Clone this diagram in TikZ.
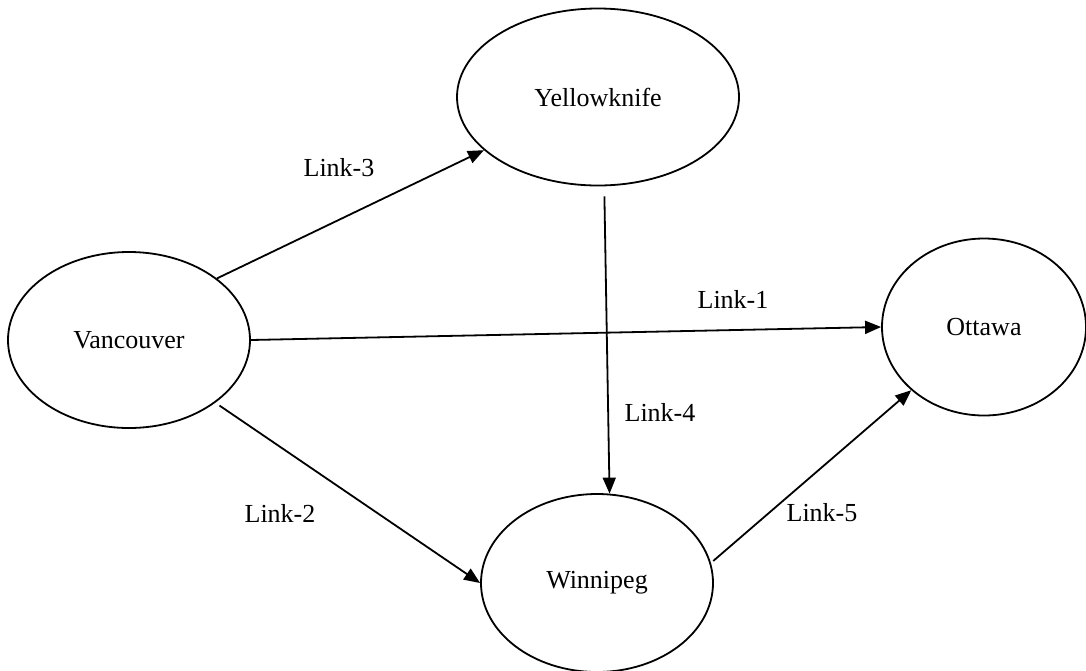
\documentclass[tikz,border=0pt]{standalone}
\usepackage{fontspec}
\setmainfont{Liberation Serif}
\usetikzlibrary{shapes.geometric,arrows.meta}
\begin{document}
\begin{tikzpicture}[x=1pt,y=-1pt,
  city/.style={draw,ellipse,line width=1.8pt,inner sep=0pt,font=\fontsize{26}{31}\selectfont},
  link/.style={line width=1.8pt,-{Triangle[length=16pt,width=13pt]}},
  lbl/.style={font=\fontsize{26}{31}\selectfont,inner sep=0pt}]
\useasboundingbox (0,0) rectangle (1086,670);
\node[city,minimum width=242pt,minimum height=176pt] (v) at (129,340) {Vancouver};
\node[city,minimum width=282pt,minimum height=177pt] (y) at (598,97) {Yellowknife};
\node[city,minimum width=204pt,minimum height=177pt] (o) at (984,327) {Ottawa};
\node[city,minimum width=232pt,minimum height=178pt] (w) at (597,583) {Winnipeg};
\draw[link] (v.35.5) -- (y.205.7);
\draw[link] (v.east) -- (o.west);
\draw[link,shorten <=10pt] (y.-86) -- (w.82);
\draw[link,shorten <=5pt] (v.-36) -- (w.west);
\draw[link,shorten <=3pt] (w.10.6) -- (o.221.3);
\node[lbl] (l3) at (339,168) {Link-3};
\node[lbl] (l1) at (733,299) {Link-1};
\node[lbl] (l4) at (660,412) {Link-4};
\node[lbl] (l2) at (280,513) {Link-2};
\node[lbl] (l5) at (822,513) {Link-5};
\end{tikzpicture}
\end{document}
